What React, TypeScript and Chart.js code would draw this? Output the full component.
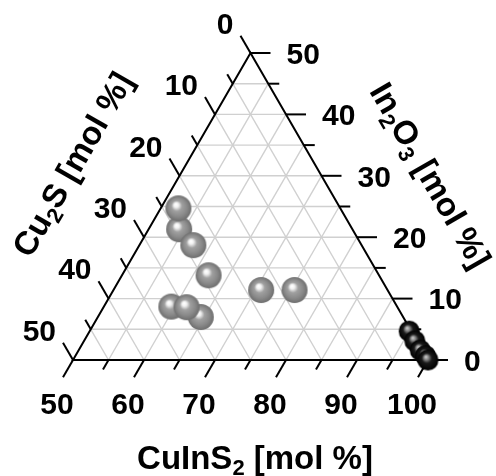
import React, { useEffect, useRef } from "react";
import { Chart, registerables } from "chart.js";

Chart.register(...registerables);

// Gray samples (CuInS2 / In2O3 / Cu2S, mol %)
const cuInS2Gray = [54.3, 52.5, 57.6, 62.2, 64.5, 59.5, 61.7, 70.8, 75.5];
const in2O3Gray = [21.3, 24.7, 18.7, 13.8, 7.0, 8.7, 8.6, 11.4, 11.4];
const cu2SGray = [24.4, 22.8, 23.7, 24.0, 28.5, 31.8, 29.7, 17.8, 13.1];

// Black samples near the CuInS2 corner
const cuInS2Black = [95.0, 96.6, 98.1, 99.3, 100];
const in2O3Black = [4.7, 3.1, 1.6, 0.7, 0];
const cu2SBlack = [0.3, 0.3, 0.3, 0, 0];

// Axis tick labels
const cuInS2Ticks = [50, 60, 70, 80, 90, 100];
const in2O3Ticks = [0, 10, 20, 30, 40, 50];
const cu2STicks = [0, 10, 20, 30, 40, 50];
const minorTicks = [5, 15, 25, 35, 45];

const SQ = Math.sqrt(3) / 2;
const FONT = '"Liberation Sans", Arial, sans-serif';

function toXY(a: number, b: number, c: number) {
  // a: CuInS2 (50..100), b: In2O3 (0..50), c: Cu2S (0..50)
  return { x: 50 - c - b / 2, y: b * SQ };
}

function makeSphere(r: number, dark: boolean): HTMLCanvasElement {
  const s = Math.ceil(2 * r + 2);
  const cv = document.createElement("canvas");
  cv.width = s;
  cv.height = s;
  const g = cv.getContext("2d")!;
  const cx = s / 2, cy = s / 2;
  const grad = g.createRadialGradient(cx - r * 0.2, cy - r * 0.3, 0.5, cx, cy, r);
  if (!dark) {
    grad.addColorStop(0, "#ffffff");
    grad.addColorStop(0.15, "#f0f0f0");
    grad.addColorStop(0.38, "#a0a0a0");
    grad.addColorStop(0.7, "#8a8a8a");
    grad.addColorStop(1, "#6e6e6e");
  } else {
    grad.addColorStop(0, "#c8c8c8");
    grad.addColorStop(0.2, "#808080");
    grad.addColorStop(0.45, "#1a1a1a");
    grad.addColorStop(1, "#000000");
  }
  g.fillStyle = grad;
  g.beginPath();
  g.arc(cx, cy, r, 0, Math.PI * 2);
  g.fill();
  return cv;
}

type Part = { t: string; sub?: boolean };

function drawRich(ctx: CanvasRenderingContext2D, parts: Part[], cx: number, cy: number, angle: number, size: number) {
  const subSize = Math.round(size * 0.66);
  ctx.save();
  ctx.translate(cx, cy);
  ctx.rotate(angle);
  let w = 0;
  const widths = parts.map((p) => {
    ctx.font = `bold ${p.sub ? subSize : size}px ${FONT}`;
    const m = ctx.measureText(p.t).width;
    w += m;
    return m;
  });
  let x = -w / 2;
  const base = size * 0.358;
  ctx.textAlign = "left";
  ctx.textBaseline = "alphabetic";
  ctx.fillStyle = "#000";
  parts.forEach((p, i) => {
    ctx.font = `bold ${p.sub ? subSize : size}px ${FONT}`;
    ctx.fillText(p.t, x, base + (p.sub ? size * 0.2 : 0));
    x += widths[i];
  });
  ctx.restore();
}

const ternaryPlugin = {
  id: "ternaryFrame",
  beforeDatasetsDraw(chart: any) {
    const { ctx, scales } = chart;
    const sx = scales.x, sy = scales.y;
    const P = (a: number, b: number, c: number): [number, number] => {
      const q = toXY(a, b, c);
      return [sx.getPixelForValue(q.x), sy.getPixelForValue(q.y)];
    };
    const line = (p: [number, number], q: [number, number]) => {
      ctx.beginPath();
      ctx.moveTo(p[0], p[1]);
      ctx.lineTo(q[0], q[1]);
      ctx.stroke();
    };
    ctx.save();
    // grid
    ctx.strokeStyle = "#d0d0d0";
    ctx.lineWidth = 1.4;
    const gridVals = [5, 10, 15, 20, 25, 30, 35, 40, 45];
    gridVals.forEach((v) => {
      line(P(50, v, 50 - v), P(100 - v, v, 0));
      line(P(100 - v, 0, v), P(50, 50 - v, v));
      line(P(50 + v, 0, 50 - v), P(50 + v, 50 - v, 0));
    });
    // triangle
    ctx.strokeStyle = "#000";
    ctx.lineWidth = 2;
    ctx.lineJoin = "miter";
    const A = P(50, 0, 50), B = P(100, 0, 0), C = P(50, 50, 0);
    ctx.beginPath();
    ctx.moveTo(A[0], A[1]);
    ctx.lineTo(B[0], B[1]);
    ctx.lineTo(C[0], C[1]);
    ctx.closePath();
    ctx.stroke();

    // ticks
    const majL = 20, minL = 11;
    const drawTicks = (vals: number[], len: number) => {
      vals.forEach((v) => {
        const pb = P(50 + v, 0, 50 - v);
        line(pb, [pb[0] - 0.5 * len, pb[1] + SQ * len]);
        const pr = P(100 - v, v, 0);
        line(pr, [pr[0] + len, pr[1]]);
        const pl = P(50, 50 - v, v);
        line(pl, [pl[0] - 0.5 * len, pl[1] - SQ * len]);
      });
    };
    drawTicks(in2O3Ticks, majL);
    drawTicks(minorTicks, minL);

    // tick labels
    const fs = 30;
    ctx.font = `bold ${fs}px ${FONT}`;
    ctx.fillStyle = "#000";
    ctx.textBaseline = "alphabetic";
    const capOff = fs * 0.358;
    ctx.textAlign = "center";
    cuInS2Ticks.forEach((a) => {
      const p = P(a, 0, 100 - a);
      ctx.fillText(String(a), p[0] - 16, p[1] + 43 + capOff);
    });
    ctx.textAlign = "left";
    in2O3Ticks.forEach((b) => {
      const p = P(100 - b, b, 0);
      ctx.fillText(String(b), p[0] + 36, p[1] + capOff);
    });
    ctx.textAlign = "right";
    cu2STicks.forEach((c) => {
      const p = P(50, 50 - c, c);
      ctx.fillText(String(c), p[0] - 17, p[1] - 30 + capOff);
    });

    // axis titles
    const ts = 33;
    drawRich(ctx, [{ t: "CuInS" }, { t: "2", sub: true }, { t: " [mol %]" }], 255, 457, 0, ts);
    drawRich(ctx, [{ t: "Cu" }, { t: "2", sub: true }, { t: "S [mol %]" }], 72, 164, -Math.PI / 3, ts);
    drawRich(ctx, [{ t: "In" }, { t: "2", sub: true }, { t: "O" }, { t: "3", sub: true }, { t: " [mol %]" }], 431, 175, Math.PI / 3, ts);
    ctx.restore();
  },
};

export default function App() {
  const ref = useRef<HTMLCanvasElement | null>(null);
  useEffect(() => {
    document.body.style.margin = "0";
    if (!ref.current) return;
    const gray = makeSphere(13, false);
    const dark = makeSphere(10.5, true);
    const grayData = cuInS2Gray.map((a, i) => toXY(a, in2O3Gray[i], cu2SGray[i]));
    const blackData = cuInS2Black.map((a, i) => toXY(a, in2O3Black[i], cu2SBlack[i]));
    const chart = new Chart(ref.current, {
      type: "scatter",
      data: {
        datasets: [
          {
            label: "samples",
            data: grayData,
            pointStyle: gray as any,
            pointRadius: 13,
            clip: false as any,
          },
          {
            label: "CuInS2-rich",
            data: blackData,
            pointStyle: dark as any,
            pointRadius: 10.5,
            clip: false as any,
          },
        ],
      },
      options: {
        responsive: false,
        animation: false,
        layout: { padding: { left: 73, right: 68, top: 53, bottom: 116 } },
        plugins: { legend: { display: false }, tooltip: { enabled: false } },
        scales: {
          x: { type: "linear", min: 0, max: 50, display: false },
          y: { type: "linear", min: 0, max: 50 * SQ, display: false },
        },
      },
      plugins: [ternaryPlugin],
    });
    return () => chart.destroy();
  }, []);
  return (
    <div style={{ width: 496, height: 476, background: "#fff" }}>
      <canvas ref={ref} width={496} height={476} />
    </div>
  );
}
